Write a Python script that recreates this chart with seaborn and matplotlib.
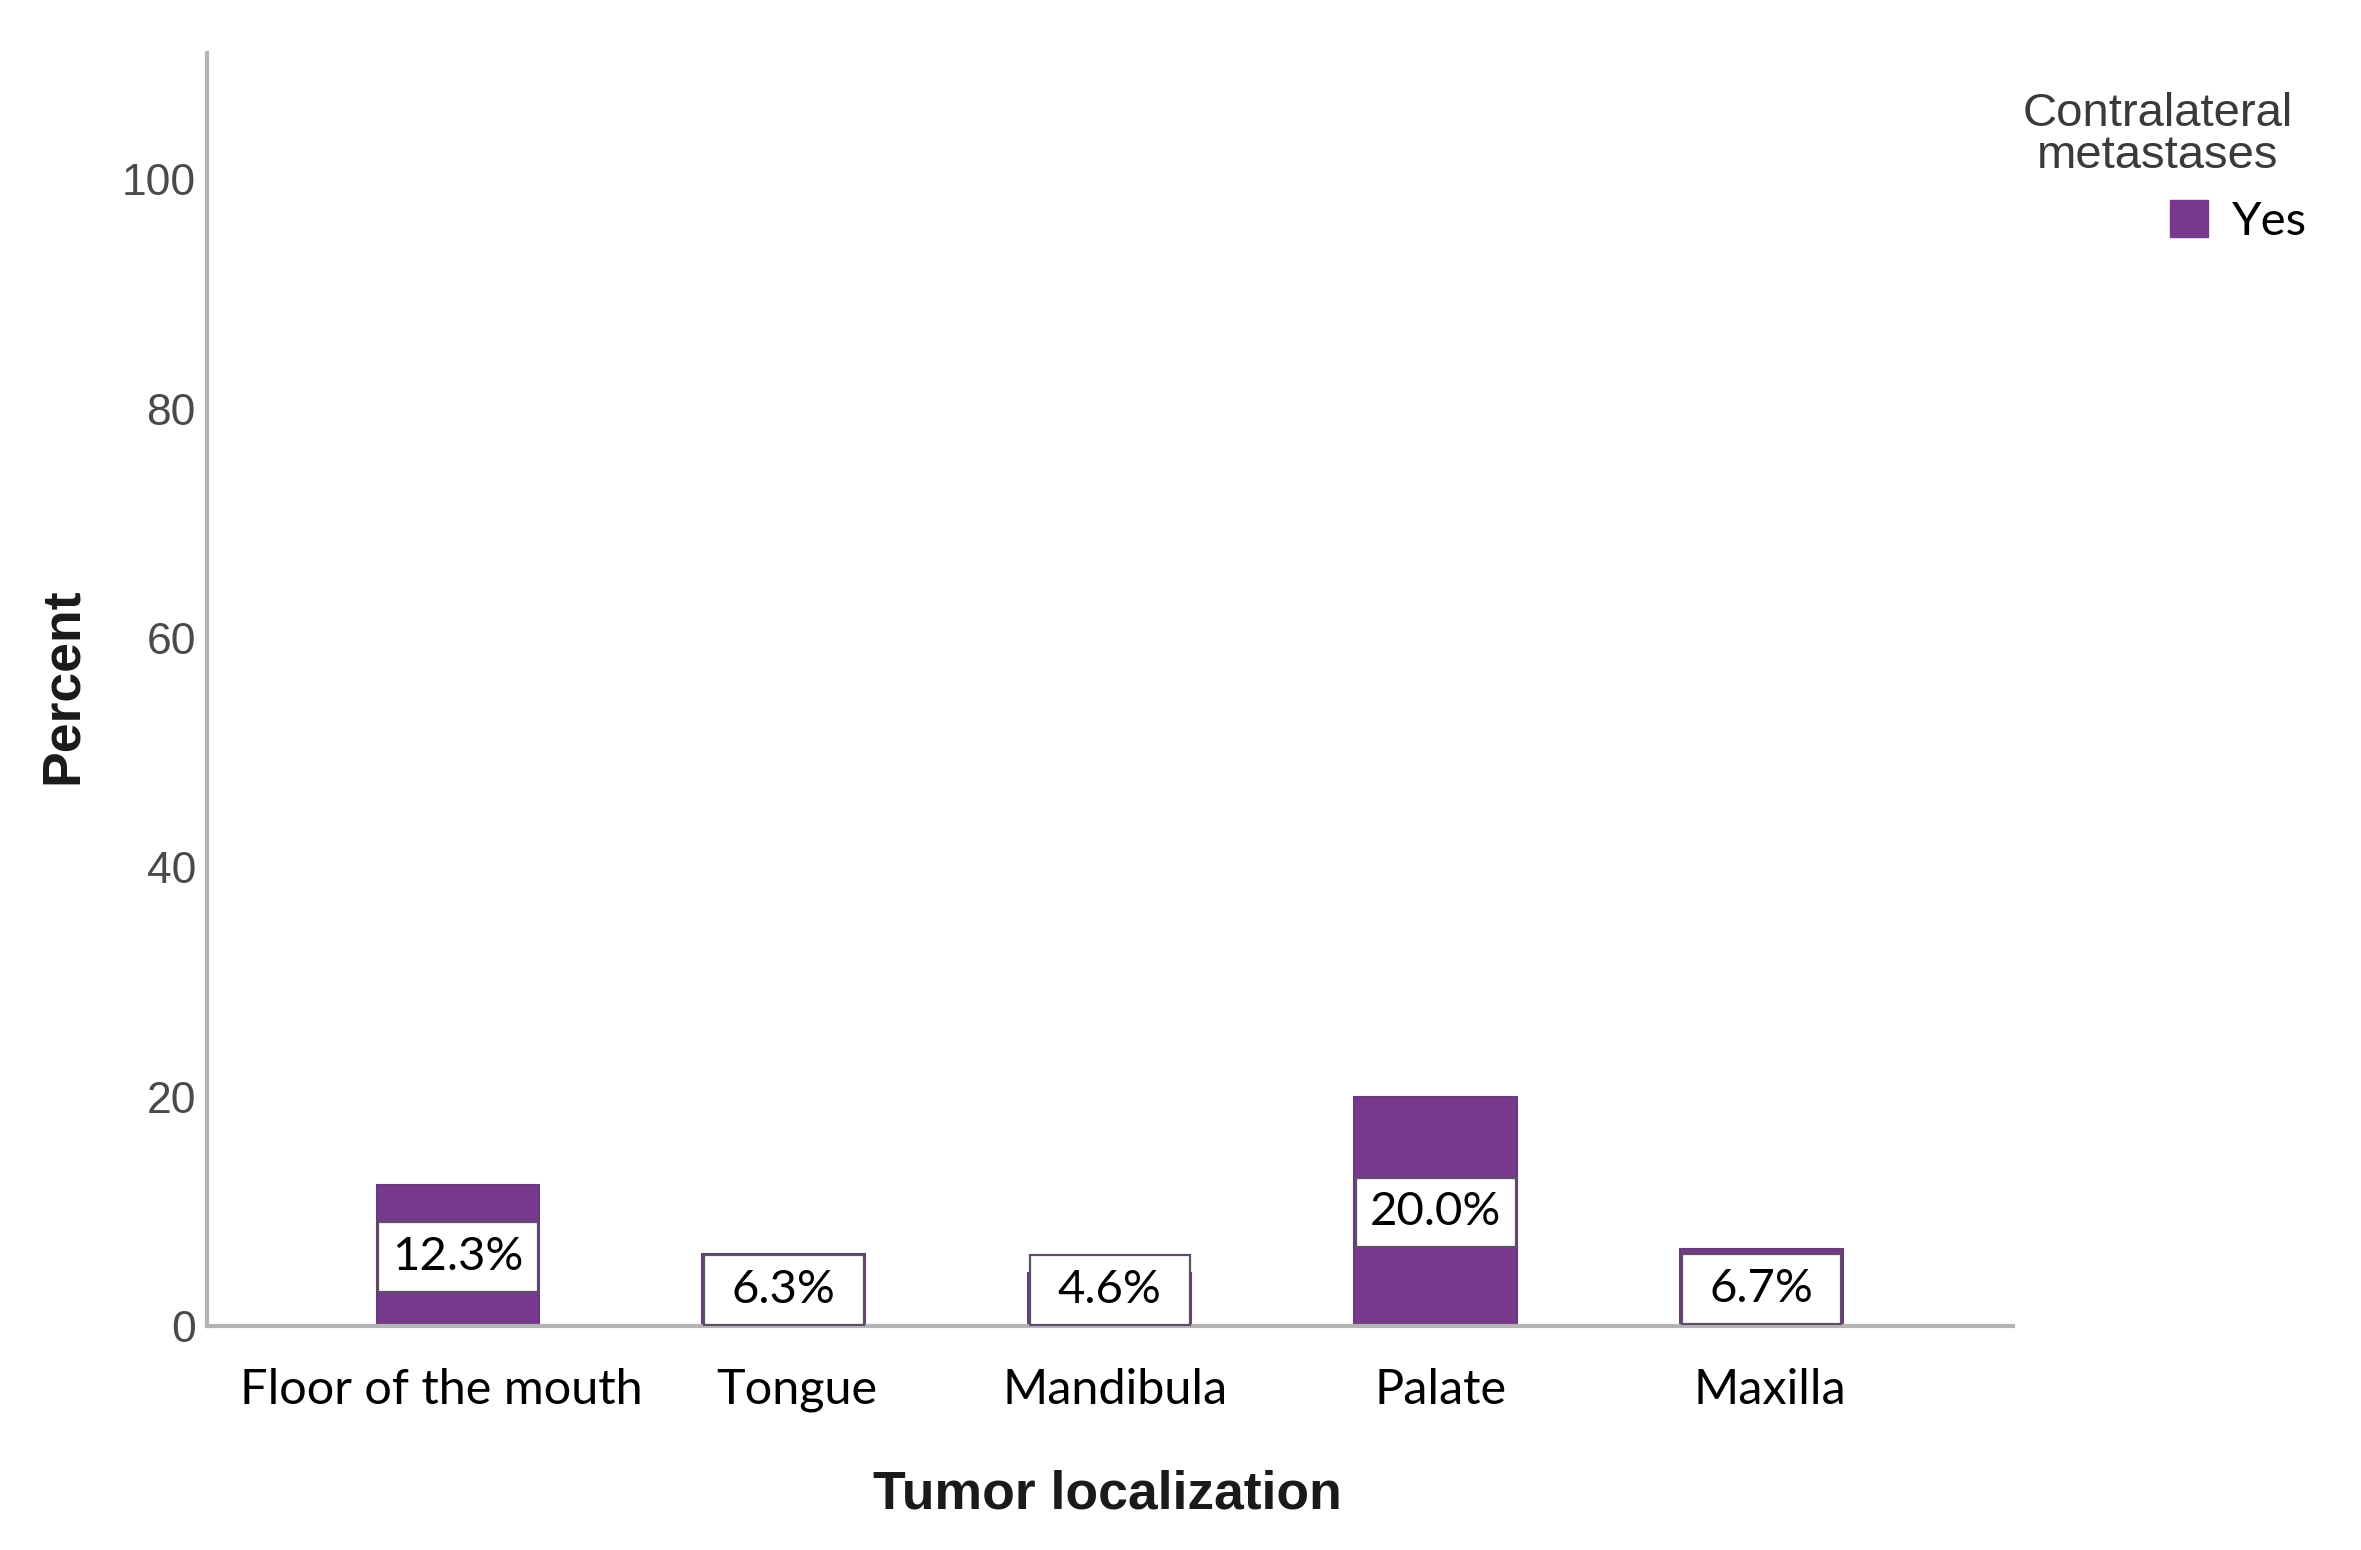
import matplotlib
matplotlib.use("Agg")
import matplotlib.pyplot as plt
import matplotlib.transforms as mtransforms
import seaborn as sns
import pandas as pd
from matplotlib.patches import Rectangle, Patch

categories = ["Floor of the mouth", "Tongue", "Mandibula", "Palate", "Maxilla"]
values = [12.3, 6.3, 4.6, 20.0, 6.7]
value_labels = ["12.3%", "6.3%", "4.6%", "20.0%", "6.7%"]
series_name = "Yes"
legend_title = "Contralateral\nmetastases"
y_ticks = [0, 20, 40, 60, 80, 100]

sns.set_theme(style="white")
plt.rcParams["font.family"] = ["Liberation Sans", "DejaVu Sans"]

BAR = "#77398b"
EDGE = "#6a3a7e"
AXIS = "#b4b4b4"

fig = plt.figure(figsize=(23.61, 15.5), dpi=100)
ax = fig.add_axes([0.0877, 0.1445, 0.7647, 0.8213])

df = pd.DataFrame({"loc": categories, "pct": values,
                   "Contralateral metastases": [series_name] * len(values)})
sns.barplot(data=df, x="loc", y="pct", hue="Contralateral metastases",
            palette=[BAR], width=0.5, edgecolor=EDGE, linewidth=1.5,
            ax=ax, legend=False, saturation=1)

# value label boxes
half_h = 3.05
half_w = 0.245
for i, (v, lab) in enumerate(zip(values, value_labels)):
    cy = max(v / 2.0 - 0.1, half_h + 0.05)
    ax.add_patch(Rectangle((i - half_w, cy - half_h), 2 * half_w, 2 * half_h,
                           facecolor="white", edgecolor="#5e4d6a", linewidth=1.6,
                           zorder=5))
    ax.text(i, cy, lab, ha="center", va="center", fontsize=34,
            family=["Lato", "DejaVu Sans"], color="black", zorder=6)

ax.set_xlim(-0.77, 4.77)
ax.set_ylim(0, 111)
ax.set_yticks(y_ticks)
ax.tick_params(axis="y", length=0, pad=8, labelsize=32, labelcolor="#4a4a4a")
ax.tick_params(axis="x", length=0, pad=30, labelsize=35)
label_shift_in = [-0.17, 0.13, 0.05, 0.05, 0.08]
for t, dx in zip(ax.get_xticklabels(), label_shift_in):
    t.set_family(["Lato", "DejaVu Sans"])
    t.set_color("black")
    t.set_transform(t.get_transform() +
                    mtransforms.ScaledTranslation(dx, 0, fig.dpi_scale_trans))

for s in ["top", "right"]:
    ax.spines[s].set_visible(False)
for s in ["left", "bottom"]:
    ax.spines[s].set_color(AXIS)
    ax.spines[s].set_linewidth(3)

ax.set_xlabel("Tumor localization", fontsize=38.5, fontweight="bold", color="#1a1a1a")
ax.set_ylabel("Percent", fontsize=38.5, fontweight="bold", color="#1a1a1a")
ax.xaxis.set_label_coords(0.4985, -0.113)
ax.yaxis.set_label_coords(-0.066, 0.503)

# legend title and entry
fig.text(0.914, 0.913, legend_title, ha="center", va="center", fontsize=34,
         color="#3a3a3a", linespacing=0.95, multialignment="center")
handles = [Patch(facecolor=BAR, edgecolor=BAR, label=series_name)]
leg = ax.legend(handles=handles, loc="center right",
                bbox_to_anchor=(0.989, 0.857), bbox_transform=fig.transFigure,
                frameon=False, fontsize=34,
                handlelength=0.8, handleheight=0.8, handletextpad=0.5,
                borderpad=0.1)
for t in leg.get_texts():
    t.set_family(["Lato", "DejaVu Sans"])
    t.set_color("black")

fig.savefig("out.png", dpi=100, facecolor="white")
